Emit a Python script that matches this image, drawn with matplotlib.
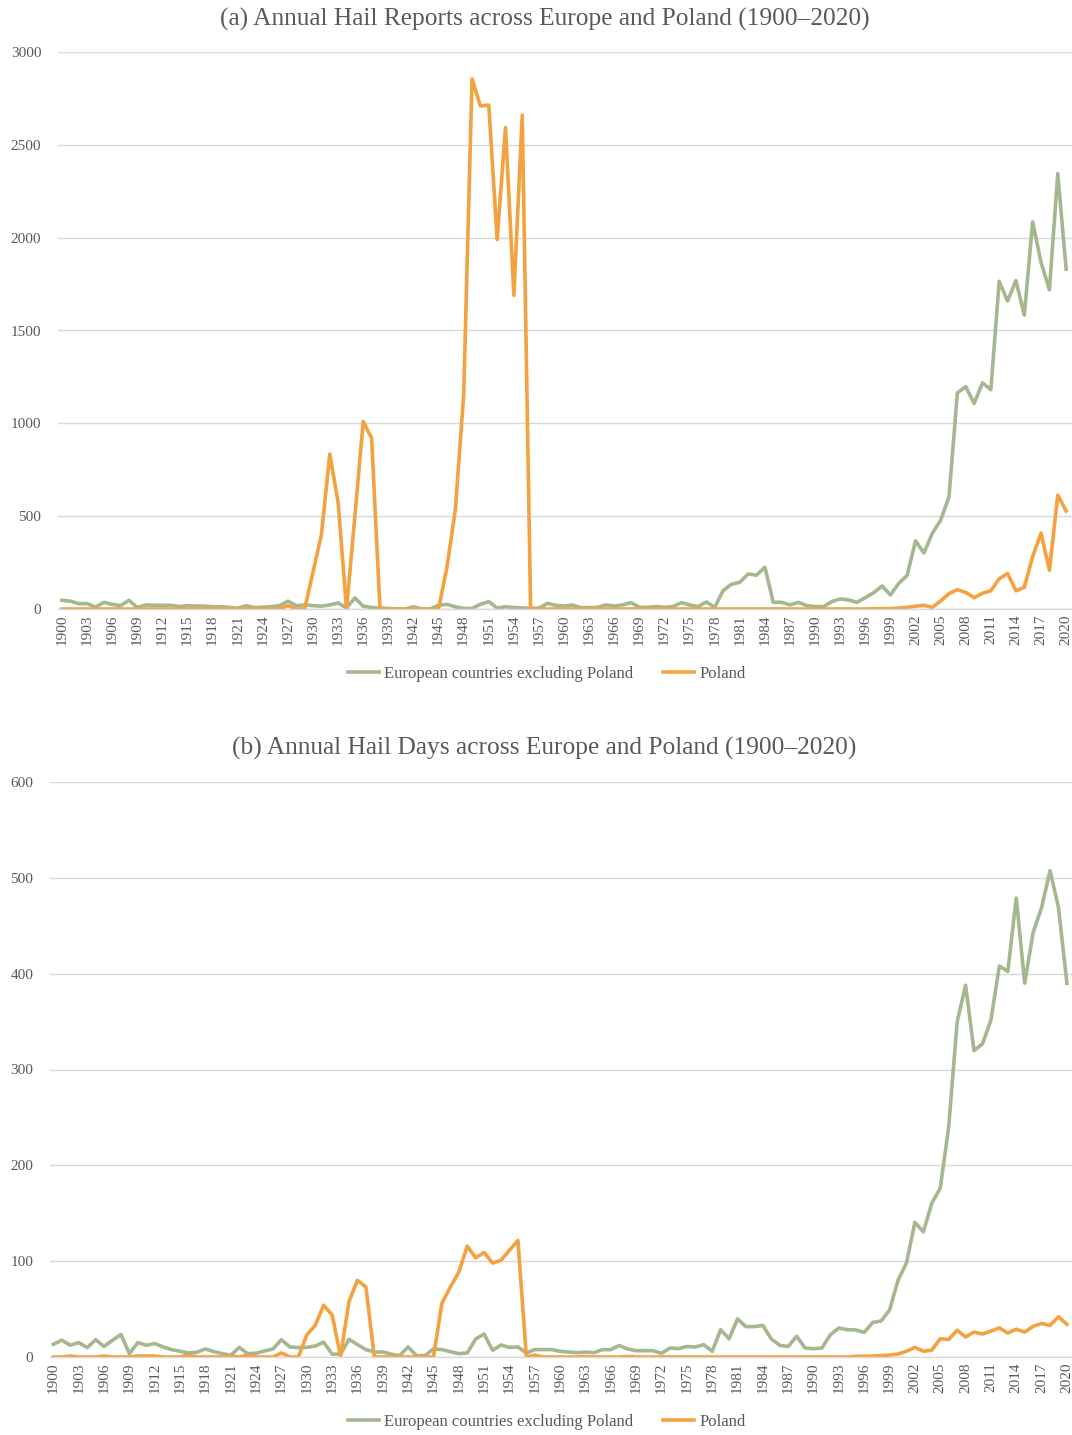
import numpy as np
import matplotlib
matplotlib.use("Agg")
import matplotlib.pyplot as plt

plt.rcParams['font.family'] = ['Liberation Serif', 'DejaVu Serif']

years = np.arange(1900, 2021)

# (a) annual hail reports
reports_europe = [
    47, 42, 29, 29, 10, 36, 25, 18, 47, 8,
    22, 20, 20, 20, 13, 18, 16, 16, 12, 12,
    9, 4, 18, 7, 10, 13, 18, 42, 18, 22,
    18, 15, 22, 33, 5, 60, 15, 8, 5, 3,
    0, 0, 12, 0, 0, 20, 25, 12, 3, 3,
    25, 40, 5, 12, 8, 6, 3, 5, 30, 20,
    16, 22, 7, 7, 9, 22, 16, 22, 34, 9,
    9, 13, 9, 13, 34, 22, 13, 38, 9, 99,
    133, 144, 189, 182, 225, 36, 36, 22, 36, 18,
    13, 13, 40, 54, 49, 36, 61, 88, 124, 76,
    138, 181, 367, 302, 407, 478, 604, 1163, 1198, 1107,
    1218, 1181, 1765, 1659, 1769, 1583, 2085, 1867, 1719, 2345,
    1830,
]
reports_poland = [
    0, 0, 0, 0, 0, 0, 0, 0, 0, 0,
    0, 0, 0, 0, 0, 0, 0, 0, 0, 0,
    0, 0, 0, 0, 0, 0, 0, 18, 0, 0,
    200, 400, 835, 572, 0, 500, 1010, 920, 0, 0,
    0, 0, 0, 0, 0, 0, 225, 533, 1150, 2855,
    2709, 2714, 1990, 2593, 1690, 2659, 0, 0, 0, 0,
    0, 0, 0, 0, 0, 0, 0, 0, 0, 0,
    0, 0, 0, 0, 0, 0, 0, 0, 0, 0,
    0, 0, 0, 0, 0, 0, 0, 0, 0, 0,
    0, 0, 0, 0, 0, 0, 0, 1, 2, 2,
    5, 9, 15, 20, 9, 43, 83, 104, 89, 61,
    85, 98, 163, 191, 98, 117, 283, 409, 209, 613,
    528,
]

# (b) annual hail days
days_europe = [
    13.3, 17.5, 12.3, 15, 9.8, 18, 11, 17.5, 23.5, 3.5,
    15, 12.3, 14, 10.5, 7.7, 6, 4.2, 5, 8.4, 5.6,
    3.5, 1.8, 10, 3.5, 4, 6.3, 8.4, 18, 10.5, 9.8,
    10, 11.5, 15.5, 3, 3, 18.5, 13, 7.7, 5.2, 5.2,
    3, 1.4, 10.5, 1.4, 1.4, 8.4, 7.7, 5.6, 3.5, 4.2,
    18.8, 24, 7, 12.5, 10, 10.5, 4.2, 7.7, 7.7, 7.7,
    6, 5.2, 4.5, 5.2, 4.5, 7.7, 7.7, 12, 8.3, 6.6,
    6.6, 6.6, 3.8, 9.4, 8.7, 11, 10.4, 12.9, 5.9, 28.5,
    19, 39.7, 31.7, 31.7, 33, 18.8, 12.2, 11, 21.6, 9.4,
    8.7, 9.4, 23.3, 30.3, 28.5, 28.2, 25.7, 36, 37.6, 49,
    80, 98, 140.5, 130.5, 160.4, 176.3, 240, 349.5, 388, 319.6,
    326.8, 351.5, 408, 402.4, 478.8, 390, 443, 469, 507.5, 469,
    390,
]
days_poland = [
    0, 0, 1, 0, 0, 0, 1, 0, 0, 0,
    1, 1, 1, 0, 0, 0, 2, 0, 0, 0,
    0, 1, 0, 2, 0, 0, 0, 4.2, 0, 0,
    23, 33, 54, 44, 1, 58, 80, 73, 0, 0,
    0, 0, 0, 0, 0, 0, 56, 73, 88.5, 115.7,
    103.5, 109, 98, 101, 111.5, 121.6, 0, 2, 0, 0,
    0, 0, 0, 0.5, 0, 0, 0, 0, 0.5, 0,
    0, 0, 0, 0, 0, 0, 0, 0, 0, 0,
    0, 0, 0, 0, 0, 0, 0, 0, 0, 0,
    0, 0, 0, 0, 0, 0.7, 0.8, 1, 1.5, 2,
    3.2, 6, 10, 6, 7.2, 19, 18.3, 27.9, 21, 26,
    24, 27, 30.3, 25, 29, 26, 32, 35, 33, 42,
    34,
]

titles = ["(a) Annual Hail Reports across Europe and Poland (1900\u20132020)",
          "(b) Annual Hail Days across Europe and Poland (1900\u20132020)"]
series_names = ["European countries excluding Poland", "Poland"]

green = '#A4B78F'
orange = '#F4A140'
text_col = '#595959'
grid_col = '#D9D9D9'

W, H = 1072, 1435
fig = plt.figure(figsize=(W / 100, H / 100), dpi=100)

# axes rectangles in pixels: left, top(max value), right, bottom(zero)
ax_a = fig.add_axes([58 / W, 1 - 609 / H, (1072 - 58) / W, (609 - 52) / H])
ax_b = fig.add_axes([50 / W, 1 - 1357 / H, (1072 - 50) / W, (1357 - 782) / H])


def style(ax, ymax, step, xlim):
    ax.set_xlim(*xlim)
    ax.set_ylim(0, ymax)
    ax.set_yticks(np.arange(0, ymax + 1, step))
    ax.set_xticks(years[::3])
    ax.set_xticklabels([str(y) for y in years[::3]], rotation=90)
    ax.grid(axis='y', color=grid_col, linewidth=1.0)
    ax.set_axisbelow(True)
    for s in ['top', 'right', 'left']:
        ax.spines[s].set_visible(False)
    ax.spines['bottom'].set_color(grid_col)
    ax.spines['bottom'].set_linewidth(1.0)
    ax.tick_params(axis='both', length=0, labelsize=11, colors=text_col)
    ax.tick_params(axis='y', pad=12)
    ax.tick_params(axis='x', pad=4)


ax_a.plot(years, reports_europe, color=green, lw=2.6, solid_joinstyle='round', label=series_names[0])
ax_a.plot(years, reports_poland, color=orange, lw=2.6, solid_joinstyle='round', label=series_names[1])
style(ax_a, 3000, 500, (1899.52, 2020.7))

ax_b.plot(years, days_europe, color=green, lw=2.6, solid_joinstyle='round', label=series_names[0])
ax_b.plot(years, days_poland, color=orange, lw=2.6, solid_joinstyle='round', label=series_names[1])
style(ax_b, 600, 100, (1899.6, 2020.6))

fig.text(0.508, 1 - 19 / H, titles[0], ha='center', va='center', fontsize=18.3, color=text_col)
fig.text(0.508, 1 - 748 / H, titles[1], ha='center', va='center', fontsize=18.3, color=text_col)

for ax, ypix in [(ax_a, 674), (ax_b, 1422)]:
    leg = ax.legend(loc='center', bbox_to_anchor=(0.51, 1 - ypix / H), bbox_transform=fig.transFigure,
                    ncol=2, frameon=False, fontsize=12, handlelength=1.85, handletextpad=0.35,
                    columnspacing=1.75, labelcolor=text_col)

fig.savefig('out.png', dpi=100)
